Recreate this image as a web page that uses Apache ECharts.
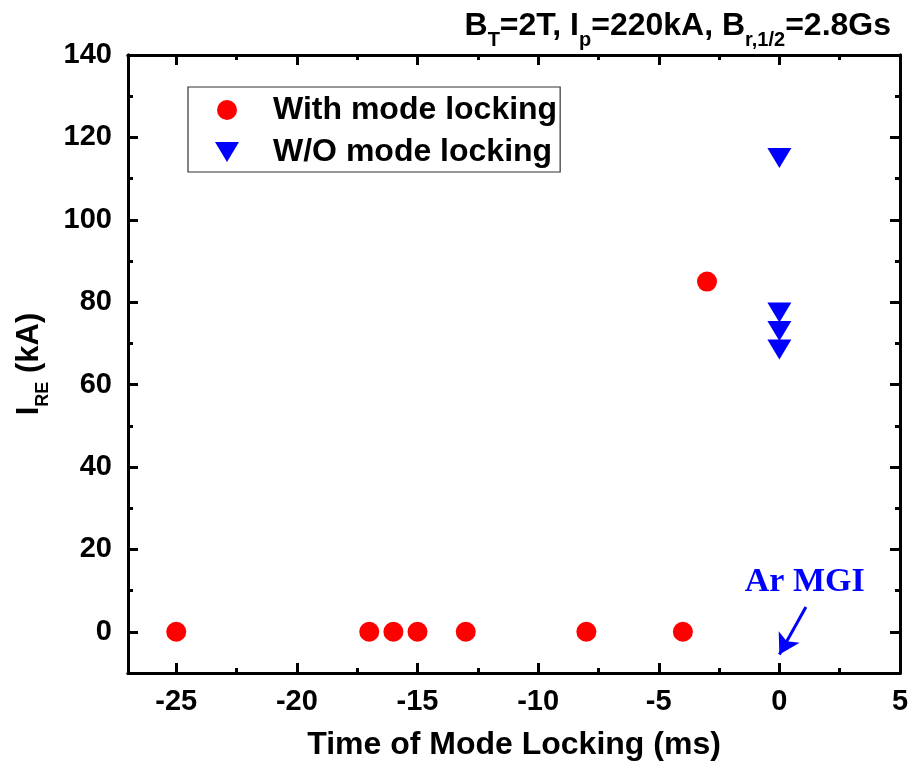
<!DOCTYPE html>
<html>
<head>
<meta charset="utf-8">
<script src="https://cdn.jsdelivr.net/npm/echarts@6/dist/echarts.min.js"></script>
<style>
html,body{margin:0;padding:0;background:#fff;}
#chart{width:912px;height:767px;}
</style>
</head>
<body>
<div id="chart"></div>
<script>
// ---- data ----
const withLockX = [-25, -17, -16, -15, -13, -8, -4, -3];
const withLockY = [0, 0, 0, 0, 0, 0, 0, 85];
const woLockX = [0, 0, 0, 0];
const woLockY = [115, 77.5, 73, 68.5];
const xMajorTicks = [-25, -20, -15, -10, -5, 0, 5];
const xMinorTicks = [-22.5, -17.5, -12.5, -7.5, -2.5, 2.5];
const yMajorTicks = [0, 20, 40, 60, 80, 100, 120, 140];
const yMinorTicks = [10, 30, 50, 70, 90, 110, 130];
const seriesNames = ['With mode locking', 'W/O mode locking'];
const arrowFrom = [1.1, 6];
const arrowTo = [0, -5.5];
const arrowLabelAt = [1.05, 12];

const FONT = 'Liberation Sans, Arial, sans-serif';
const BLACK = '#000';
const DOWN_TRI = 'path://M0,0 L24,0 L12,20 Z';

function xAx(pos, ticks, len, labels) {
  return {
    type: 'value', position: pos, min: -27, max: 5,
    axisLine: { show: true, onZero: false, lineStyle: { color: BLACK, width: 3 } },
    axisTick: { show: true, inside: true, length: len, customValues: ticks, lineStyle: { color: BLACK, width: 3 } },
    axisLabel: labels ? { show: true, customValues: ticks, margin: 14, color: BLACK, fontFamily: FONT, fontWeight: 'bold', fontSize: 29 } : { show: false },
    splitLine: { show: false }
  };
}
function yAx(pos, ticks, len, labels) {
  return {
    type: 'value', position: pos, min: -10, max: 140,
    axisLine: { show: true, onZero: false, lineStyle: { color: BLACK, width: 3 } },
    axisTick: { show: true, inside: true, length: len, customValues: ticks, lineStyle: { color: BLACK, width: 3 } },
    axisLabel: labels ? { show: true, customValues: ticks, margin: 16, color: BLACK, fontFamily: FONT, fontWeight: 'bold', fontSize: 29 } : { show: false },
    splitLine: { show: false }
  };
}

const xAxes = [
  xAx('bottom', xMajorTicks, 10, true),
  xAx('bottom', xMinorTicks, 5, false),
  xAx('top', xMajorTicks, 10, false),
  xAx('top', xMinorTicks, 5, false)
];
xAxes[0].name = 'Time of Mode Locking (ms)';
xAxes[0].nameLocation = 'middle';
xAxes[0].nameGap = 56;
xAxes[0].nameTextStyle = { color: BLACK, fontFamily: FONT, fontWeight: 'bold', fontSize: 32 };

const yAxes = [
  yAx('left', yMajorTicks, 10, true),
  yAx('left', yMinorTicks, 5, false),
  yAx('right', yMajorTicks, 10, false),
  yAx('right', yMinorTicks, 5, false)
];
yAxes[0].name = '{m|I}{s|RE}{m| (kA)}';
yAxes[0].nameLocation = 'middle';
yAxes[0].nameRotate = 90;
yAxes[0].nameGap = 76;
yAxes[0].nameTextStyle = {
  color: BLACK,
  rich: {
    m: { fontFamily: FONT, fontWeight: 'bold', fontSize: 31, color: BLACK },
    s: { fontFamily: FONT, fontWeight: 'bold', fontSize: 18, color: BLACK, padding: [27, 0, 0, 0] }
  }
};

const chart = echarts.init(document.getElementById('chart'), null, { renderer: 'canvas' });
chart.setOption({
  backgroundColor: '#fff',
  animation: false,
  grid: { left: 128, right: 12, top: 55, bottom: 94, containLabel: false },
  title: {
    text: '{m|B}{s|T}{m|=2T, I}{s|p}{m|=220kA, B}{s|r,1/2}{m|=2.8Gs}',
    right: 16, top: -3,
    textStyle: {
      rich: {
        m: { fontFamily: FONT, fontWeight: 'bold', fontSize: 32, color: BLACK },
        s: { fontFamily: FONT, fontWeight: 'bold', fontSize: 20, color: BLACK, padding: [28, 0, 0, 0] }
      }
    }
  },
  legend: {
    orient: 'vertical',
    left: 188, top: 87,
    data: [
      { name: seriesNames[0], icon: 'circle' },
      { name: seriesNames[1], icon: DOWN_TRI }
    ],
    itemWidth: 24, itemHeight: 20, itemGap: 10,
    padding: [7, 3, 4, 27],
    borderColor: '#333', borderWidth: 1.2,
    textStyle: { color: BLACK, fontFamily: FONT, fontWeight: 'bold', fontSize: 32, lineHeight: 32, padding: [0, 0, 0, 29] }
  },
  xAxis: xAxes,
  yAxis: yAxes,
  series: [
    {
      name: seriesNames[0], type: 'scatter', xAxisIndex: 0, yAxisIndex: 0,
      symbol: 'circle', symbolSize: 20,
      itemStyle: { color: '#ff0000', opacity: 1 },
      data: withLockX.map((x, i) => [x, withLockY[i]]),
      z: 3
    },
    {
      name: seriesNames[1], type: 'scatter', xAxisIndex: 0, yAxisIndex: 0,
      symbol: DOWN_TRI, symbolSize: [24, 20],
      itemStyle: { color: '#0000ff', opacity: 1 },
      data: woLockX.map((x, i) => [x, woLockY[i]]),
      z: 3,
      markLine: {
        silent: true, animation: false,
        symbol: ['none', 'arrow'], symbolSize: [18, 20],
        lineStyle: { color: '#0000ff', width: 3, type: 'solid' },
        label: { show: false },
        data: [[{ coord: arrowFrom }, { coord: arrowTo }]]
      },
      markPoint: {
        silent: true, animation: false,
        symbol: 'circle', symbolSize: 0,
        label: {
          show: true, position: 'inside', formatter: 'Ar MGI',
          color: '#0000ff', fontFamily: 'Liberation Serif, Times New Roman, serif', fontWeight: 'bold', fontSize: 34
        },
        data: [{ coord: arrowLabelAt }]
      }
    }
  ]
});
</script>
</body>
</html>
